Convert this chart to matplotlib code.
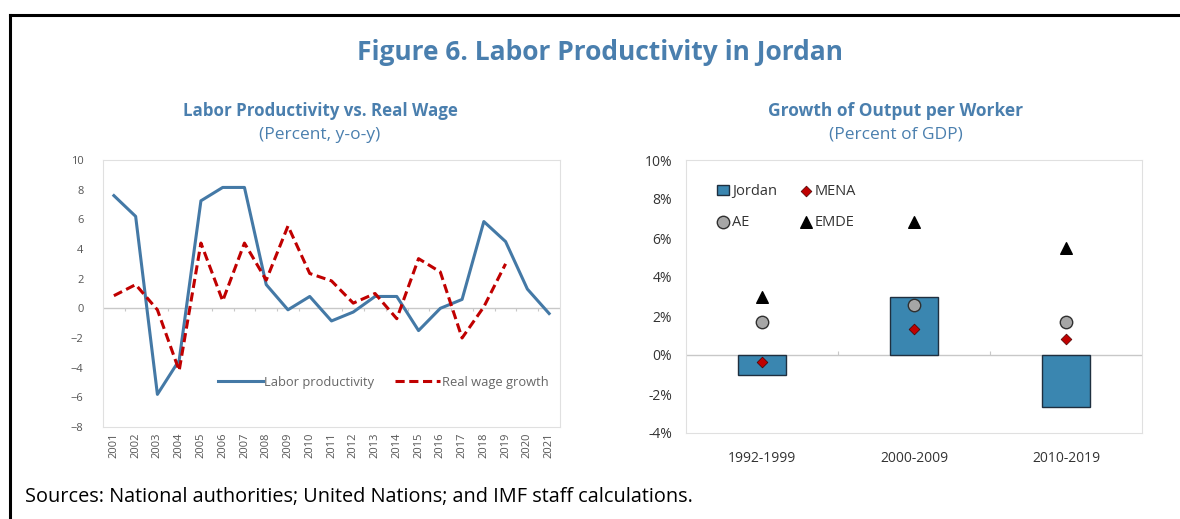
import matplotlib
matplotlib.use('Agg')
import matplotlib.pyplot as plt
import matplotlib.ticker as mticker
import numpy as np

plt.rcParams['font.family'] = ['Open Sans', 'DejaVu Sans']

# Left panel: labor productivity vs real wage (percent, y-o-y)
years = [str(y) for y in range(2001, 2022)]
labor_prod = [7.6, 6.2, -5.8, -3.5, 7.25, 8.15, 8.15, 1.6, -0.1, 0.8, -0.85,
              -0.25, 0.8, 0.8, -1.5, 0.0, 0.6, 5.85, 4.5, 1.3, -0.35]
real_wage = [0.85, 1.6, -0.1, -4.2, 4.4, 0.5, 4.4, 1.9, 5.55, 2.35, 1.85,
             0.35, 1.0, -0.7, 3.35, 2.45, -2.0, 0.1, 3.0]

# Right panel: growth of output per worker (percent)
periods = ['1992-1999', '2000-2009', '2010-2019']
jordan = [-1.0, 3.0, -2.65]
mena = [-0.38, 1.32, 0.84]
ae = [1.68, 2.57, 1.68]
emde = [2.95, 6.8, 5.48]

TITLE_BLUE = '#4a7fae'
LINE_BLUE = '#4479a6'
RED = '#c00000'
BAR_BLUE = '#3a86b0'
GRID_GRAY = '#c8c8c8'

W, H = 1180, 519
fig = plt.figure(figsize=(W / 100, H / 100), dpi=100)

# frame lines (top and left)
fig.add_artist(plt.Line2D([10 / W, 1], [1 - 15 / H, 1 - 15 / H], color='black', lw=2.2))
fig.add_artist(plt.Line2D([10 / W, 10 / W], [0, 1 - 15 / H], color='black', lw=2.2))

fig.text(600 / W, 1 - 52 / H, 'Figure 6. Labor Productivity in Jordan', ha='center', va='center',
         fontsize=19, fontweight='bold', color=TITLE_BLUE)
fig.text(320 / W, 1 - 111 / H, 'Labor Productivity vs. Real Wage', ha='center', va='center',
         fontsize=12.2, fontweight='bold', color=TITLE_BLUE)
fig.text(320 / W, 1 - 135 / H, '(Percent, y-o-y)', ha='center', va='center',
         fontsize=12.5, color=TITLE_BLUE)
fig.text(896 / W, 1 - 111 / H, 'Growth of Output per Worker', ha='center', va='center',
         fontsize=12.5, fontweight='bold', color=TITLE_BLUE)
fig.text(896 / W, 1 - 135 / H, '(Percent of GDP)', ha='center', va='center',
         fontsize=12.5, color=TITLE_BLUE)
fig.text(25 / W, 1 - 497 / H, 'Sources: National authorities; United Nations; and IMF staff calculations.',
         ha='left', va='center', fontsize=14.3, color='black')

# ---------------- left panel ----------------
ax1 = fig.add_axes([103 / W, 1 - 427 / H, (560 - 103) / W, (427 - 160) / H])
x1 = np.arange(len(years))
ax1.axhline(0, color=GRID_GRAY, lw=1, zorder=1)
ax1.plot(x1, labor_prod, color=LINE_BLUE, lw=2.2, label='Labor productivity', zorder=3)
ax1.plot(x1[:len(real_wage)], real_wage, color=RED, lw=2.2, ls=(0, (3, 1.5)),
         label='Real wage growth', zorder=4)
ax1.set_xlim(-0.5, len(years) - 0.5)
ax1.set_ylim(-8, 10)
ax1.set_yticks(np.arange(-8, 11, 2))
ax1.set_xticks(x1)
ax1.set_xticklabels(years, rotation=90, fontsize=8, color='#555555')
ax1.tick_params(axis='y', labelsize=8, labelcolor='#555555', length=0, pad=14)
ax1.tick_params(axis='x', length=0, pad=4)
ax1.vlines(x1[:-1] + 0.5, -0.15, 0, color=GRID_GRAY, lw=0.8)
for s in ax1.spines.values():
    s.set_color('#e0e0e0')
    s.set_linewidth(0.8)
ax1.legend(loc='lower right', bbox_to_anchor=(1.0, 0.1), ncol=2, frameon=False,
           fontsize=9.3, labelcolor='#666666', handlelength=3.5, handletextpad=0.1,
           columnspacing=1.6)

# ---------------- right panel ----------------
ax2 = fig.add_axes([686 / W, 1 - 433 / H, (1142 - 686) / W, (433 - 160) / H])
x2 = np.arange(len(periods))
ax2.axhline(0, color=GRID_GRAY, lw=1, zorder=1)
ax2.bar(x2, jordan, width=0.32, color=BAR_BLUE, edgecolor='#1f2f3f', lw=1,
        label='Jordan', zorder=2)
ax2.scatter(x2, mena, marker='D', s=30, color='#c00000', edgecolor='#4a0000', lw=0.5,
            label='MENA', zorder=5)
ax2.scatter(x2, ae, marker='o', s=80, color='#a6a6a6', edgecolor='#303030', lw=1,
            label='AE', zorder=4)
ax2.scatter(x2, emde, marker='^', s=70, color='black', label='EMDE', zorder=4)
ax2.set_xlim(-0.5, len(periods) - 0.5)
ax2.set_ylim(-4, 10)
ax2.set_yticks(np.arange(-4, 11, 2))
ax2.yaxis.set_major_formatter(mticker.FuncFormatter(lambda v, p: f'{v:.0f}%'))
ax2.set_xticks(x2)
ax2.set_xticklabels(periods, fontsize=10, color='#333333')
ax2.tick_params(axis='y', labelsize=10, labelcolor='#333333', length=0, pad=10)
ax2.tick_params(axis='x', length=0, pad=13)
ax2.vlines(x2[:-1] + 0.5, 0, 0.2, color=GRID_GRAY, lw=0.8)
for s in ax2.spines.values():
    s.set_color('#e0e0e0')
    s.set_linewidth(0.8)
handles, labels = ax2.get_legend_handles_labels()
order = [labels.index(n) for n in ['Jordan', 'AE', 'MENA', 'EMDE']]
ax2.legend([handles[i] for i in order], [labels[i] for i in order],
           loc='upper left', bbox_to_anchor=(0.04, 0.96), ncol=2, frameon=False,
           fontsize=10.5, labelcolor='#333333', handlelength=0.8, handletextpad=0.2,
           columnspacing=1.6, labelspacing=1.1)

fig.savefig('out.png', dpi=100)
